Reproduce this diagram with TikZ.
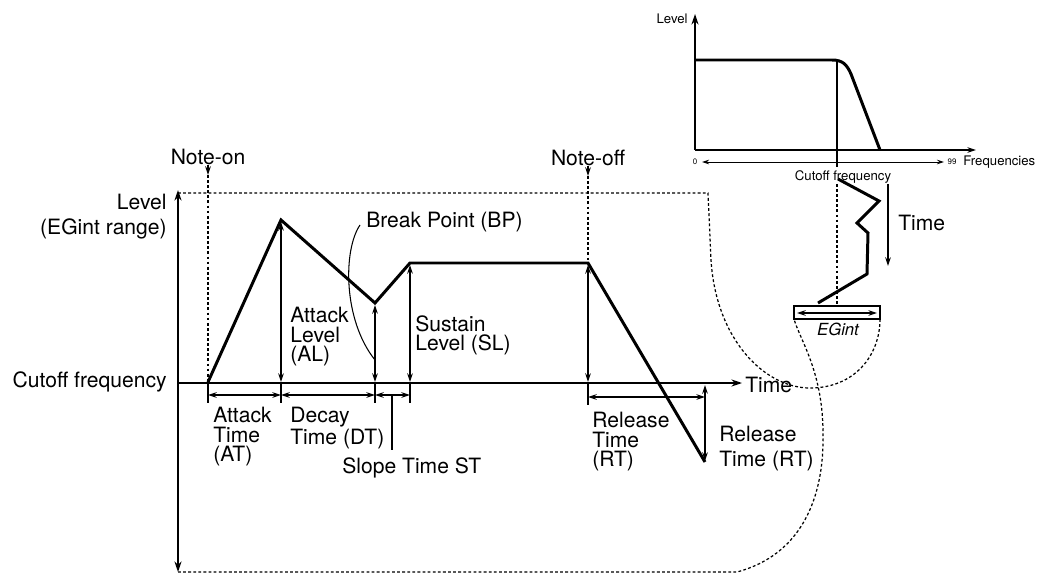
\documentclass[tikz,border=0pt]{standalone}
\usepackage{fontspec}
\setmainfont{TeX Gyre Heros}
\usetikzlibrary{positioning, arrows.meta}

\begin{document}
\begin{tikzpicture}[x=0.02cm, y=-0.02cm,
  lbl/.style={font=\fontsize{12}{11}\selectfont, align=left, inner sep=0pt},
  lblwide/.style={font=\fontsize{12}{14}\selectfont, inner sep=0pt},
  small/.style={font=\fontsize{7.5}{8}\selectfont, inner sep=0pt},
  env/.style={line width=1.7pt, line join=miter},
  ax/.style={line width=0.9pt, -{Stealth[length=6pt,width=4pt]}},
  tip/.style={line width=0.6pt, -{Stealth[length=5pt,width=3.2pt]}},
  dim/.style={line width=0.6pt, {Stealth[length=5pt,width=3.2pt]}-{Stealth[length=5pt,width=3.2pt]}},
  dots/.style={line width=0.7pt, dash pattern=on 1.6pt off 1.3pt}]
  \useasboundingbox (0,0) rectangle (1041,574);

  % main envelope graph
  \draw[line width=0.9pt, {Stealth[length=6pt,width=4pt]}-{Stealth[length=6pt,width=4pt]}] (178,572) -- (178,190);
  \draw[ax] (178,383) -- (742,383);
  \node[lbl, anchor=west] (timeaxis) at (745,385) {Time};
  \node[lblwide, align=right, anchor=north east] (levelname) at (167,194) {Level\\(EGint range)};
  \node[lbl, anchor=east] (cutoffname) at (167,382) {Cutoff frequency};

  % EGint range limits
  \draw[dots] (178,193) -- (708,193) -- (711,260)
        .. controls (716,340) and (765,388) .. (810,388)
        .. controls (855,388) and (880,355) .. (880,319);
  \draw[dots] (178,572) -- (737,572)
        .. controls (800,555) and (825,500) .. (823,430)
        .. controls (822,370) and (800,340) .. (794,319);

  % note on / note off
  \node[lbl] (noteon) at (208,157) {Note-on};
  \draw[tip] (208,165) -- (208,175);
  \draw[dots] (208,175) -- (208,382);
  \node[lbl] (noteoff) at (588,158) {Note-off};
  \draw[tip] (588,166) -- (588,176);
  \draw[dots] (588,176) -- (588,263);

  \draw[env] (208,382) -- (281,220) -- (375,303) -- (410,263) -- (588,263) -- (705,462);

  % levels
  \draw[dim] (281,222) -- (281,382);
  \draw[dim] (375,305) -- (375,382);
  \draw[dim] (410,265) -- (410,382);
  \draw[dim] (588,265) -- (588,382);
  \draw[dim] (705,385) -- (705,461);

  % times
  \foreach \tx in {208,281,375,410}
    \draw[line width=0.6pt] (\tx,383) -- (\tx,403);
  \draw[line width=0.6pt] (588,383) -- (588,405);
  \draw[dim] (208,395) -- (281,395);
  \draw[dim] (281,395) -- (375,395);
  \draw[dim] (375,395) -- (410,395);
  \draw[dim] (588,397) -- (705,397);
  \draw[line width=0.6pt] (392,395) -- (392,450);

  \node[lbl, anchor=north west] (attackL) at (290,307) {Attack\\Level\\(AL)};
  \node[lbl, anchor=north west] (sustainL) at (415,315) {Sustain\\Level (SL)};
  \node[lbl, anchor=west] (breakpt) at (366,222) {Break Point (BP)};
  \draw[line width=0.6pt] (360,225) .. controls (343,250) and (343,320) .. (375,360);
  \node[lbl, anchor=north west] (attackT) at (213,407) {Attack\\Time\\(AT)};
  \node[lbl, anchor=north west] (decayT) at (290,407) {Decay\\Time (DT)};
  \node[lbl, anchor=west] (slopeT) at (342,468) {Slope Time ST};
  \node[lbl, anchor=north west] (releaseT) at (592,412) {Release\\Time\\(RT)};
  \node[lblwide, align=left, anchor=north west] (releaseT2) at (719,426) {Release\\Time (RT)};

  % filter inset
  \draw[ax] (695,150) -- (695,14);
  \node[small, anchor=east] (fltlevel) at (688,19) {Level};
  \draw[tip] (695,150) -- (976,150);
  \draw[line width=0.5pt, {Stealth[length=4pt,width=2.6pt]}-{Stealth[length=4pt,width=2.6pt]}] (702,162) -- (944,162);
  \node[font=\fontsize{4.5}{5}\selectfont, inner sep=0pt] (fzero) at (695,162) {0};
  \node[font=\fontsize{4.5}{5}\selectfont, inner sep=0pt] (fmax) at (952,162) {99};
  \node[small, anchor=west] (freqs) at (963,162) {Frequencies};
  \draw[env] (695,60) -- (832,60) .. controls (843,60) and (847,65) .. (851,74) -- (880,150);
  \draw[line width=0.6pt] (837,60) -- (837,167);
  \node[small] (fltcutoff) at (843,177) {Cutoff frequency};
  \draw[dots] (837,184) -- (837,306);
  \draw[env] (838,179) -- (879,201) -- (857,223) -- (868,233) -- (867,274) -- (818,303);
  \draw[tip] (888,184) -- (888,266);
  \node[lbl, anchor=west] (fltime) at (898,223) {Time};
  \draw[line width=0.6pt] (794,306) rectangle (880,319);
  \draw[dim] (797,313) -- (877,313);
  \node[font=\fontsize{9.5}{10}\selectfont\itshape, inner sep=0pt] (egint) at (838,329) {EGint};
\end{tikzpicture}
\end{document}
